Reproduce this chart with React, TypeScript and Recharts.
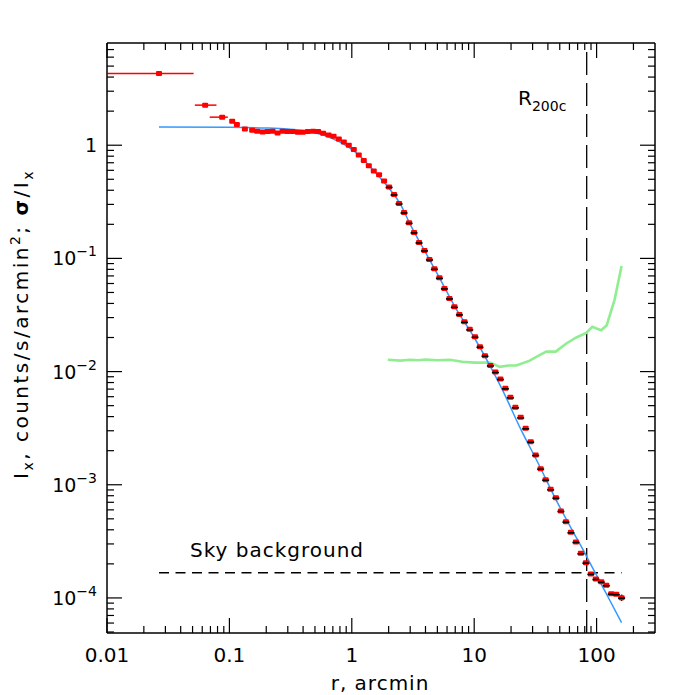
import {
  ComposedChart,
  ErrorBar,
  Line,
  ReferenceLine,
  Scatter,
  XAxis,
  YAxis,
} from "recharts";

// surface brightness profile, red points with x error bars (innermost bins)
const binX = [0.0266, 0.0634, 0.0873];
const binY = [4.3, 2.26, 1.77];
const binErrLo = [0.0165, 0.0112, 0.0183];
const binErrHi = [0.0244, 0.015, 0.0097];

// core points (red only)
const coreX = [
  0.1054, 0.1151, 0.1338, 0.1535, 0.1686, 0.1866, 0.205, 0.2253, 0.2474, 0.2718,
  0.2986, 0.328, 0.3624, 0.398, 0.4375, 0.4831, 0.5309, 0.583, 0.6453, 0.7093,
  0.7834, 0.8604, 0.945, 1.038, 1.14, 1.253, 1.377, 1.512, 1.671, 1.835,
];
const coreY = [
  1.629, 1.523, 1.393, 1.357, 1.329, 1.31, 1.321, 1.329, 1.284, 1.329,
  1.321, 1.321, 1.302, 1.302, 1.321, 1.329, 1.321, 1.276, 1.233, 1.201,
  1.137, 1.069, 1.0, 0.916, 0.821, 0.733, 0.657, 0.593, 0.547, 0.484,
];

// outer points (red with black bar)
const outerX = [
  2.016, 2.215, 2.433, 2.673, 2.937, 3.226, 3.543, 3.922, 4.31, 4.73,
  5.2, 5.71, 6.28, 6.89, 7.57, 8.32, 9.19, 10.15, 11.15, 12.25,
  13.56, 14.9, 16.36, 17.98, 19.75, 21.7, 23.97, 26.33, 28.93, 31.77,
  34.9, 38.35, 42.1, 46.5, 51.1, 56.2, 61.7, 67.8, 74.4, 81.8,
  89.8, 98.7, 109.2, 120.0, 131.8, 144.8,
];
const outerY = [
  0.428, 0.367, 0.306, 0.2544, 0.206, 0.1695, 0.1383, 0.1175, 0.0979, 0.0809,
  0.0673, 0.0543, 0.0443, 0.0373, 0.032, 0.0275, 0.0236, 0.0203, 0.01656, 0.01379,
  0.01134, 0.0099, 0.00859, 0.00711, 0.00592, 0.00483, 0.00394, 0.00315, 0.0024, 0.00183,
  0.001386, 0.001108, 0.000912, 0.000768, 0.000586, 0.000472, 0.00038, 0.000312, 0.000248, 0.000205,
  0.000163, 0.000147, 0.000139, 0.0001295, 0.0001091, 0.0001078,
];
const lastX = 160;
const lastY = 0.0001006;
const lastErr = 0.0000065;

// model (blue)
const modelX = [
  0.0266, 0.1, 0.2, 0.3, 0.4, 0.5, 0.6, 0.7, 0.85, 1.0, 1.2, 1.5, 2.0, 2.5, 3.0,
  4.0, 5.0, 7.0, 10, 13.2, 17, 24, 33, 46.5, 60, 82, 100, 130, 160,
];
const modelY = [
  1.45, 1.44, 1.42, 1.39, 1.35, 1.29, 1.22, 1.14, 1.03, 0.92, 0.78, 0.6, 0.42, 0.3, 0.2,
  0.113, 0.073, 0.037, 0.02, 0.0117, 0.0069, 0.0031, 0.00158, 0.00074, 0.00044, 0.000238,
  0.000158, 0.0000925, 0.0000605,
];

// sigma / I_x (green)
const noiseX = [
  1.97, 2.5, 3.0, 3.5, 4.0, 5.0, 6.3, 8.0, 10, 13.4, 16.2, 19, 22.1, 28.4, 33,
  38.8, 46.3, 56.6, 68.3, 82.4, 92.2, 100, 109, 121, 140, 160,
];
const noiseY = [
  0.0127, 0.0125, 0.0127, 0.0126, 0.0128, 0.0126, 0.0127, 0.0122, 0.012, 0.012,
  0.011, 0.0113, 0.0113, 0.0125, 0.0137, 0.015, 0.015, 0.0177, 0.02, 0.022,
  0.0249, 0.024, 0.0232, 0.0257, 0.0428, 0.0855,
];

const skyX = [0.0266, 160];
const skyLevel = 0.000167;
const r200c = 83;

const xMajor = [0.01, 0.1, 1, 10, 100];
const xMinor = [
  0.02, 0.03, 0.04, 0.05, 0.06, 0.07, 0.08, 0.09,
  0.2, 0.3, 0.4, 0.5, 0.6, 0.7, 0.8, 0.9,
  2, 3, 4, 5, 6, 7, 8, 9,
  20, 30, 40, 50, 60, 70, 80, 90, 200,
];
const yMajor = [0.0001, 0.001, 0.01, 0.1, 1];
const yMinor = [
  0.00005, 0.00006, 0.00007, 0.00008, 0.00009,
  0.0002, 0.0003, 0.0004, 0.0005, 0.0006, 0.0007, 0.0008, 0.0009,
  0.002, 0.003, 0.004, 0.005, 0.006, 0.007, 0.008, 0.009,
  0.02, 0.03, 0.04, 0.05, 0.06, 0.07, 0.08, 0.09,
  0.2, 0.3, 0.4, 0.5, 0.6, 0.7, 0.8, 0.9,
  2, 3, 4, 5, 6, 7,
];

const binData = binX.map((x, i) => ({ x, y: binY[i], xErr: [binErrLo[i], binErrHi[i]] }));
const coreData = coreX.map((x, i) => ({ x, y: coreY[i] }));
const outerData = outerX.map((x, i) => ({ x, y: outerY[i] }));
const lastData = [{ x: lastX, y: lastY, yErr: lastErr }];
const modelData = modelX.map((x, i) => ({ x, y: modelY[i] }));
const noiseData = noiseX.map((x, i) => ({ x, y: noiseY[i] }));
const skyData = skyX.map((x) => ({ x, y: skyLevel }));

const xTicks = [...xMajor, ...xMinor];
const yTicks = [...yMajor, ...yMinor];

const FONT = "'DejaVu Sans', sans-serif";
const W = 674;
const H = 687;
const MAJ = 15;
const MIN = 7;

function BottomTick({ x, y, payload }: any) {
  const major = xMajor.includes(payload.value);
  return (
    <g>
      <line x1={x} y1={y} x2={x} y2={y - (major ? MAJ : MIN)} stroke="#000" strokeWidth={1.2} />
      {major && (
        <text x={x} y={y + 29} textAnchor="middle" fontSize={20} fontFamily={FONT} fill="#000">
          {String(payload.value)}
        </text>
      )}
    </g>
  );
}

function TopTick({ x, y, payload }: any) {
  const major = xMajor.includes(payload.value);
  return <line x1={x} y1={y} x2={x} y2={y + (major ? MAJ : MIN)} stroke="#000" strokeWidth={1.2} />;
}

function LeftTick({ x, y, payload }: any) {
  const v = payload.value;
  const major = yMajor.includes(v);
  const exp = Math.round(Math.log10(v));
  return (
    <g>
      <line x1={x} y1={y} x2={x + (major ? MAJ : MIN)} y2={y} stroke="#000" strokeWidth={1.2} />
      {major && (
        <text x={x - 10} y={y + 7} textAnchor="end" fontSize={19} fontFamily={FONT} fill="#000">
          {exp === 0 ? (
            "1"
          ) : (
            <>
              <tspan>10</tspan>
              <tspan dy={-9} fontSize={14}>{`\u2212${-exp}`}</tspan>
            </>
          )}
        </text>
      )}
    </g>
  );
}

function RightTick({ x, y, payload }: any) {
  const major = yMajor.includes(payload.value);
  return <line x1={x} y1={y} x2={x - (major ? MAJ : MIN)} y2={y} stroke="#000" strokeWidth={1.2} />;
}

const redDot = (p: any) => (
  <rect x={p.cx - 3} y={p.cy - 2.5} width={6} height={5} rx={1} fill="#ff0000" />
);

const barDot = (p: any) => (
  <g>
    <rect x={p.cx - 3} y={p.cy - 2.5} width={6} height={5} rx={1} fill="#ff0000" />
    <line x1={p.cx - 3.5} x2={p.cx + 3.5} y1={p.cy + 0.5} y2={p.cy + 0.5} stroke="#000" strokeWidth={1.6} />
  </g>
);

export default function App() {
  const axisLine = { stroke: "#000", strokeWidth: 1.5 };
  return (
    <div style={{ position: "relative", width: W, height: H, background: "#fff" }}>
      <ComposedChart width={W} height={H} margin={{ top: 0, right: 0, bottom: 0, left: 0 }}>
        <XAxis
          xAxisId="b"
          dataKey="x"
          type="number"
          scale="log"
          domain={[0.01, 300]}
          allowDataOverflow
          ticks={xTicks}
          interval={0}
          tickSize={0}
          tickMargin={0}
          tickLine={false}
          tick={<BottomTick />}
          axisLine={axisLine}
          height={62}
        />
        <XAxis
          xAxisId="t"
          orientation="top"
          dataKey="x"
          type="number"
          scale="log"
          domain={[0.01, 300]}
          allowDataOverflow
          ticks={xTicks}
          interval={0}
          tickSize={0}
          tickMargin={0}
          tickLine={false}
          tick={<TopTick />}
          axisLine={axisLine}
          height={35}
        />
        <YAxis
          yAxisId="l"
          type="number"
          scale="log"
          domain={[0.000049, 8]}
          allowDataOverflow
          ticks={yTicks}
          interval={0}
          tickSize={0}
          tickMargin={0}
          tickLine={false}
          tick={<LeftTick />}
          axisLine={axisLine}
          width={99}
        />
        <YAxis
          yAxisId="r"
          orientation="right"
          type="number"
          scale="log"
          domain={[0.000049, 8]}
          allowDataOverflow
          ticks={yTicks}
          interval={0}
          tickSize={0}
          tickMargin={0}
          tickLine={false}
          tick={<RightTick />}
          axisLine={axisLine}
          width={27}
        />

        <ReferenceLine
          xAxisId="b"
          yAxisId="l"
          x={r200c}
          stroke="#000"
          strokeWidth={1.3}
          strokeDasharray="23 8"
        />

        <Scatter xAxisId="b" yAxisId="l" data={binData} dataKey="y" shape={redDot} isAnimationActive={false}>
          <ErrorBar dataKey="xErr" direction="x" width={0} stroke="#ff0000" strokeWidth={1.5} isAnimationActive={false} />
        </Scatter>
        <Scatter xAxisId="b" yAxisId="l" data={coreData} dataKey="y" shape={redDot} isAnimationActive={false} />
        <Scatter xAxisId="b" yAxisId="l" data={outerData} dataKey="y" shape={barDot} isAnimationActive={false} />
        <Scatter xAxisId="b" yAxisId="l" data={lastData} dataKey="y" shape={barDot} isAnimationActive={false}>
          <ErrorBar dataKey="yErr" direction="y" width={0} stroke="#000" strokeWidth={1.5} isAnimationActive={false} />
        </Scatter>

        <Line
          xAxisId="b"
          yAxisId="l"
          data={skyData}
          dataKey="y"
          type="linear"
          stroke="#000"
          strokeWidth={1.3}
          strokeDasharray="10 6.5"
          dot={false}
          isAnimationActive={false}
        />
        <Line
          xAxisId="b"
          yAxisId="l"
          data={noiseData}
          dataKey="y"
          type="linear"
          stroke="#90ee90"
          strokeWidth={2.6}
          dot={false}
          isAnimationActive={false}
        />
        <Line
          xAxisId="b"
          yAxisId="l"
          data={modelData}
          dataKey="y"
          type="monotone"
          stroke="#3399ff"
          strokeWidth={1.5}
          dot={false}
          isAnimationActive={false}
        />
      </ComposedChart>

      <svg
        width={W}
        height={H}
        style={{ position: "absolute", left: 0, top: 0, pointerEvents: "none" }}
        fontFamily={FONT}
        fill="#000"
      >
        <text x={182} y={549} fontSize={20} letterSpacing={1}>Sky background</text>
        <text x={510} y={97} fontSize={20}>
          R<tspan dy={6} fontSize={14}>200c</tspan>
        </text>
        <text x={372} y={682} fontSize={20} textAnchor="middle" letterSpacing={1}>r, arcmin</text>
        <text transform="translate(20,316) rotate(-90)" fontSize={20} textAnchor="middle" letterSpacing={2.5}>
          <tspan>I</tspan>
          <tspan dy={5} fontSize={14}>x</tspan>
          <tspan dy={-5}>, counts/s/arcmin</tspan>
          <tspan dy={-8} fontSize={14}>2</tspan>
          <tspan dy={8}>; </tspan>
          <tspan fontWeight="bold">σ</tspan>
          <tspan>/I</tspan>
          <tspan dy={5} fontSize={14}>x</tspan>
        </text>
      </svg>
    </div>
  );
}
